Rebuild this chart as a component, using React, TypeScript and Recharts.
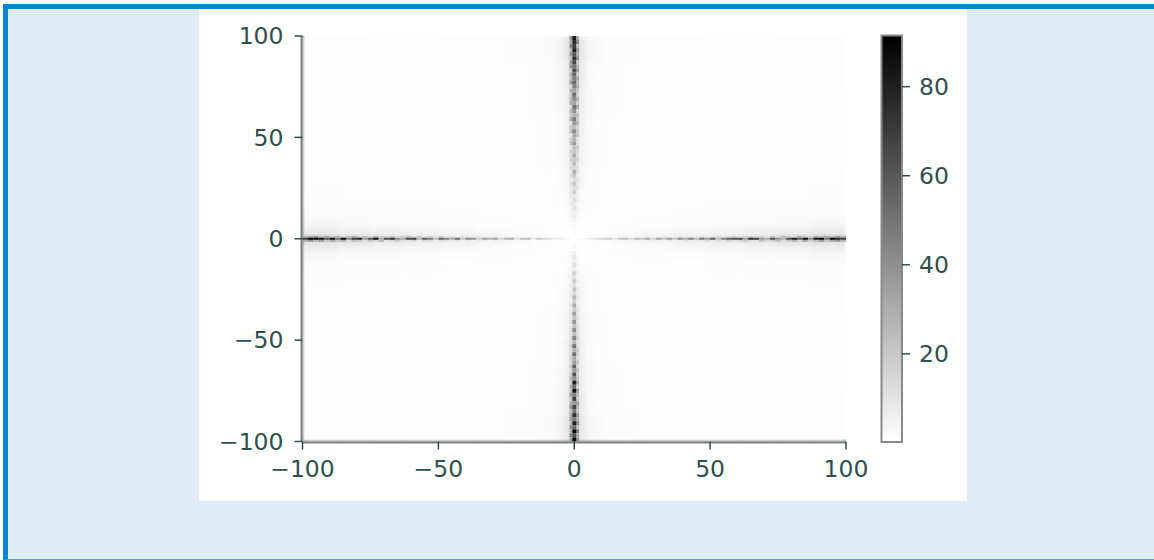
import { ScatterChart, Scatter, XAxis, YAxis, ReferenceArea } from "recharts"

const AXIS_TICKS = [-100, -50, 0, 50, 100]
const COLORBAR_TICKS = [20, 40, 60, 80]
const COLORBAR_MIN = 0.2
const COLORBAR_MAX = 91.5

// ridge values along the axes, one per 2 units
const leftArm = [70,90,91,84,62,86,50,88,44,70,78,36,60,88,30,64,74,40,30,66,70,26,58,48,22,56,44,30,52,20,44,36,16,34,26,32,14,26,30,10,22,24,8,20,14,12,8,6,3,1]
const rightArm = [1,3,6,9,12,16,18,10,20,24,12,26,18,30,14,32,22,36,20,40,28,46,24,50,34,56,22,44,58,62,66,34,76,68,36,30,62,40,28,64,82,60,88,42,84,91,50,91,80,70]
const topArm = [82,76,70,80,60,72,66,50,62,56,46,54,44,34,52,42,32,50,40,26,46,36,24,42,30,28,36,22,20,30,18,24,14,28,18,12,20,10,18,8,12,8,10,6,8,5,3,2,1,0.5]
const bottomArm = [0.5,1,3,5,8,6,12,8,16,10,18,12,22,14,26,16,30,18,34,20,38,22,40,24,44,26,50,28,52,30,34,56,36,62,40,80,52,84,44,70,36,66,48,74,46,80,54,88,62,90]

// the bins just beside each ridge
const leftAbove = [24,30,36,22,28,18,26,14,20,28,16,22,12,26,18,14,20,10,16,22,12,18,8,14,10,16,8,12,6,10,8,6,9,5,6,7,4,5,3,4,3,2,3,2,1,1,0.5,0.3,0.2,0.2]
const leftBelow = [30,38,26,34,20,30,22,28,14,24,18,12,22,16,24,10,14,20,12,10,16,8,14,12,6,12,10,7,9,6,8,5,7,6,3,5,4,3,4,2,2,3,1,1,1,0.5,0.4,0.3,0.2,0.2]
const rightAbove = [0.2,0.2,0.3,0.5,1,1,2,2,3,2,4,3,4,6,3,5,7,4,6,9,5,8,6,11,7,10,13,8,12,15,9,14,18,11,16,10,20,13,24,16,12,26,18,14,28,22,30,24,34,26]
const rightBelow = [0.2,0.3,0.4,1,1,2,1,3,2,4,3,5,3,4,6,5,4,8,5,7,10,6,9,7,12,8,11,9,16,10,14,18,12,10,22,14,16,24,12,20,26,16,32,18,24,36,22,30,38,28]
const topSideL = [38,30,44,26,36,22,34,40,18,30,24,34,16,28,20,26,30,14,24,18,28,12,20,24,10,18,22,8,16,12,18,10,14,8,12,6,10,8,6,9,5,7,4,5,3,3,2,1,0.5,0.3]
const topSideR = [30,42,24,36,28,40,20,26,34,18,32,22,28,20,14,26,18,30,12,22,16,26,14,18,20,12,8,18,14,10,16,8,12,10,6,10,7,9,5,6,6,3,5,3,3,2,1,1,0.5,0.3]
const bottomSideL = [0.3,0.5,1,2,2,3,2,4,3,5,4,6,4,7,6,5,9,6,10,8,11,7,12,9,14,10,16,11,13,16,12,20,14,18,26,18,30,22,34,20,28,38,22,30,36,24,40,28,44,34]
const bottomSideR = [0.3,0.4,1,1,3,2,4,2,5,3,6,3,7,5,8,6,6,10,8,12,7,13,10,11,15,9,12,18,14,10,20,13,22,16,20,30,16,34,24,18,32,26,20,36,28,42,24,46,30,38]

// faint haze by distance from the axes, rows are |y| bands and columns |x| bands
const hazeEdges = [0, 1, 2, 4, 7, 11, 16, 24, 36, 50, 62, 74, 87, 100]
const hazeRows = [
  [0, 0, 0.3, 0.6, 1.2, 2, 3, 5, 7, 9, 11, 13, 15],
  [0, 0, 0.3, 0.6, 1, 1.6, 2.5, 4, 6, 7, 9, 11, 13],
  [0.3, 0.3, 0.3, 0.5, 0.8, 1.2, 1.8, 2.8, 3.8, 4.6, 5.6, 7, 8.5],
  [0.8, 0.7, 0.5, 0.4, 0.6, 0.8, 1.1, 1.6, 2.2, 2.8, 3.3, 4, 5],
  [1.6, 1.3, 0.8, 0.5, 0.5, 0.6, 0.7, 1, 1.3, 1.6, 1.9, 2.3, 2.8],
  [3, 2.4, 1.3, 0.7, 0.5, 0.5, 0.6, 0.7, 0.8, 1, 1.2, 1.4, 1.6],
  [5, 3.8, 2, 0.9, 0.6, 0.5, 0.5, 0.5, 0.6, 0.6, 0.7, 0.8, 0.9],
  [7, 5.5, 2.8, 1.3, 0.7, 0.6, 0.5, 0.5, 0.5, 0.5, 0.5, 0.6, 0.6],
  [9, 7, 3.8, 1.8, 0.9, 0.7, 0.6, 0.5, 0.5, 0.5, 0.5, 0.5, 0.5],
  [11, 9, 4.8, 2.2, 1.1, 0.8, 0.6, 0.5, 0.5, 0.5, 0.5, 0.5, 0.5],
  [13, 10, 5.5, 2.6, 1.3, 0.9, 0.7, 0.6, 0.5, 0.5, 0.5, 0.5, 0.5],
  [15, 11, 6.5, 3, 1.6, 1.1, 0.8, 0.6, 0.5, 0.5, 0.5, 0.5, 0.6],
  [17, 13, 7.5, 3.6, 2, 1.3, 0.9, 0.7, 0.6, 0.5, 0.5, 0.6, 0.7],
]

type HeatCell = { x: number; y: number; w: number; h: number; v: number }

const hazeCells: HeatCell[] = []
hazeRows.forEach((row, r) => {
  row.forEach((v, c) => {
    const w = hazeEdges[c + 1] - hazeEdges[c]
    const h = hazeEdges[r + 1] - hazeEdges[r]
    const x = (hazeEdges[c] + hazeEdges[c + 1]) / 2
    const y = (hazeEdges[r] + hazeEdges[r + 1]) / 2
    for (const sx of [-1, 1]) for (const sy of [-1, 1]) hazeCells.push({ x: sx * x, y: sy * y, w, h, v })
  })
})

const rowCells = (vals: number[], startX: number, y: number): HeatCell[] =>
  vals.map((v, i) => ({ x: startX + i * 2, y, w: 2, h: 1, v }))
const colCells = (vals: number[], startY: number, x: number, w: number): HeatCell[] =>
  vals.map((v, i) => ({ x, y: startY - i * 2, w, h: 2, v }))

const ridgeCells: HeatCell[] = [
  ...rowCells(leftAbove, -99, 1),
  ...rowCells(leftBelow, -99, -1),
  ...rowCells(rightAbove, 1, 1),
  ...rowCells(rightBelow, 1, -1),
  ...colCells(topSideL, 99, -1.2, 1.1),
  ...colCells(topSideR, 99, 1.2, 1.1),
  ...colCells(bottomSideL, -1, -1.2, 1.1),
  ...colCells(bottomSideR, -1, 1.2, 1.1),
  ...rowCells(leftArm, -99, 0),
  ...rowCells(rightArm, 1, 0),
  ...colCells(topArm, 99, 0, 1.4),
  ...colCells(bottomArm, -1, 0, 1.4),
]

const axisEnds = [{ x: -100, y: -100 }, { x: 100, y: 100 }]
const colorbarEnds = [{ x: 0.5, y: COLORBAR_MIN }, { x: 0.5, y: COLORBAR_MAX }]

const PX_X = 543.5 / 200
const PX_Y = 405.5 / 200

const grey = (v: number) => {
  const g = Math.round(255 * (1 - Math.min(v, COLORBAR_MAX) / COLORBAR_MAX))
  return `rgb(${g},${g},${g})`
}

function CellShape(props: any) {
  const { cx, cy, payload } = props
  const w = payload.w * PX_X
  const h = payload.h * PX_Y
  return <rect x={cx - w / 2} y={cy - h / 2} width={w} height={h} fill={grey(payload.v)} />
}

const tickStyle = { fill: "#2F4F4F", fontSize: 23.5, fontFamily: "DejaVu Sans" }
const tickLineStyle = { stroke: "#2F4F4F", strokeWidth: 1.5 }
// the heat chart clips the inner half of these, which leaves 2px showing
const spineStyle = { stroke: "#808080", strokeWidth: 4 }
const formatTick = (v: number) => String(v).replace("-", "\u2212")

export default function App() {
  return (
    <div style={{ position: "absolute", left: 0, top: 0, width: 1154, height: 560, background: "#fff", overflow: "hidden" }}>
      <div style={{ position: "absolute", left: 3, top: 4, width: 1151, height: 556, boxSizing: "border-box", background: "#DFEBF7", borderTop: "5px solid #0284CF", borderLeft: "5px solid #0284CF", borderBottom: "1px solid #5B9FD8" }} />
      <div style={{ position: "absolute", left: 199, top: 9, width: 768, height: 492, background: "#fff" }} />
      <style>{`.haze-layer { filter: blur(2px); } .ridge-layer { filter: blur(0.55px); }`}</style>

      <div style={{ position: "absolute", left: 0, top: 0 }}>
        <ScatterChart width={1154} height={560} margin={{ top: 36, right: 308, bottom: 78.5, left: 0 }}>
          <XAxis
            type="number"
            dataKey="x"
            domain={[-100, 100]}
            ticks={AXIS_TICKS}
            tickFormatter={formatTick}
            height={40}
            tickSize={8}
            tickMargin={11}
            tick={tickStyle}
            tickLine={tickLineStyle}
            axisLine={spineStyle}
            interval={0}
          />
          <YAxis
            type="number"
            dataKey="y"
            domain={[-100, 100]}
            ticks={AXIS_TICKS}
            tickFormatter={formatTick}
            width={302.5}
            tickSize={8}
            tickMargin={11}
            tick={tickStyle}
            tickLine={tickLineStyle}
            axisLine={spineStyle}
            interval={0}
          />
          <Scatter data={axisEnds} shape={() => <g />} isAnimationActive={false} />
        </ScatterChart>
      </div>

      <div style={{ position: "absolute", left: 0, top: 0, clipPath: "inset(36px 308px 118.5px 302.5px)" }}>
        <ScatterChart width={1154} height={560} margin={{ top: 36, right: 308, bottom: 118.5, left: 302.5 }}>
          <XAxis type="number" dataKey="x" domain={[-100, 100]} hide />
          <YAxis type="number" dataKey="y" domain={[-100, 100]} hide />
          <Scatter className="haze-layer" data={hazeCells} shape={CellShape} isAnimationActive={false} />
          <Scatter className="ridge-layer" data={ridgeCells} shape={CellShape} isAnimationActive={false} />
        </ScatterChart>
      </div>

      <div style={{ position: "absolute", left: 860, top: 0 }}>
        <ScatterChart width={110} height={480} margin={{ top: 35.5, right: 0, bottom: 38, left: 21.5 }}>
          <defs>
            <linearGradient id="cbGrad" x1="0" y1="0" x2="0" y2="1">
              <stop offset="0" stopColor="#000" />
              <stop offset="1" stopColor="#fff" />
            </linearGradient>
          </defs>
          <XAxis type="number" dataKey="x" domain={[0, 1]} hide />
          <YAxis
            type="number"
            dataKey="y"
            orientation="right"
            domain={[COLORBAR_MIN, COLORBAR_MAX]}
            ticks={COLORBAR_TICKS}
            width={68}
            tickSize={8}
            tickMargin={9}
            tick={tickStyle}
            tickLine={tickLineStyle}
            axisLine={false}
            interval={0}
          />
          <Scatter data={colorbarEnds} shape={() => <g />} isAnimationActive={false} />
          <ReferenceArea x1={0} x2={1} y1={COLORBAR_MIN} y2={COLORBAR_MAX} fill="url(#cbGrad)" fillOpacity={1} stroke="#888" strokeWidth={2} ifOverflow="visible" />
        </ScatterChart>
      </div>
    </div>
  )
}
